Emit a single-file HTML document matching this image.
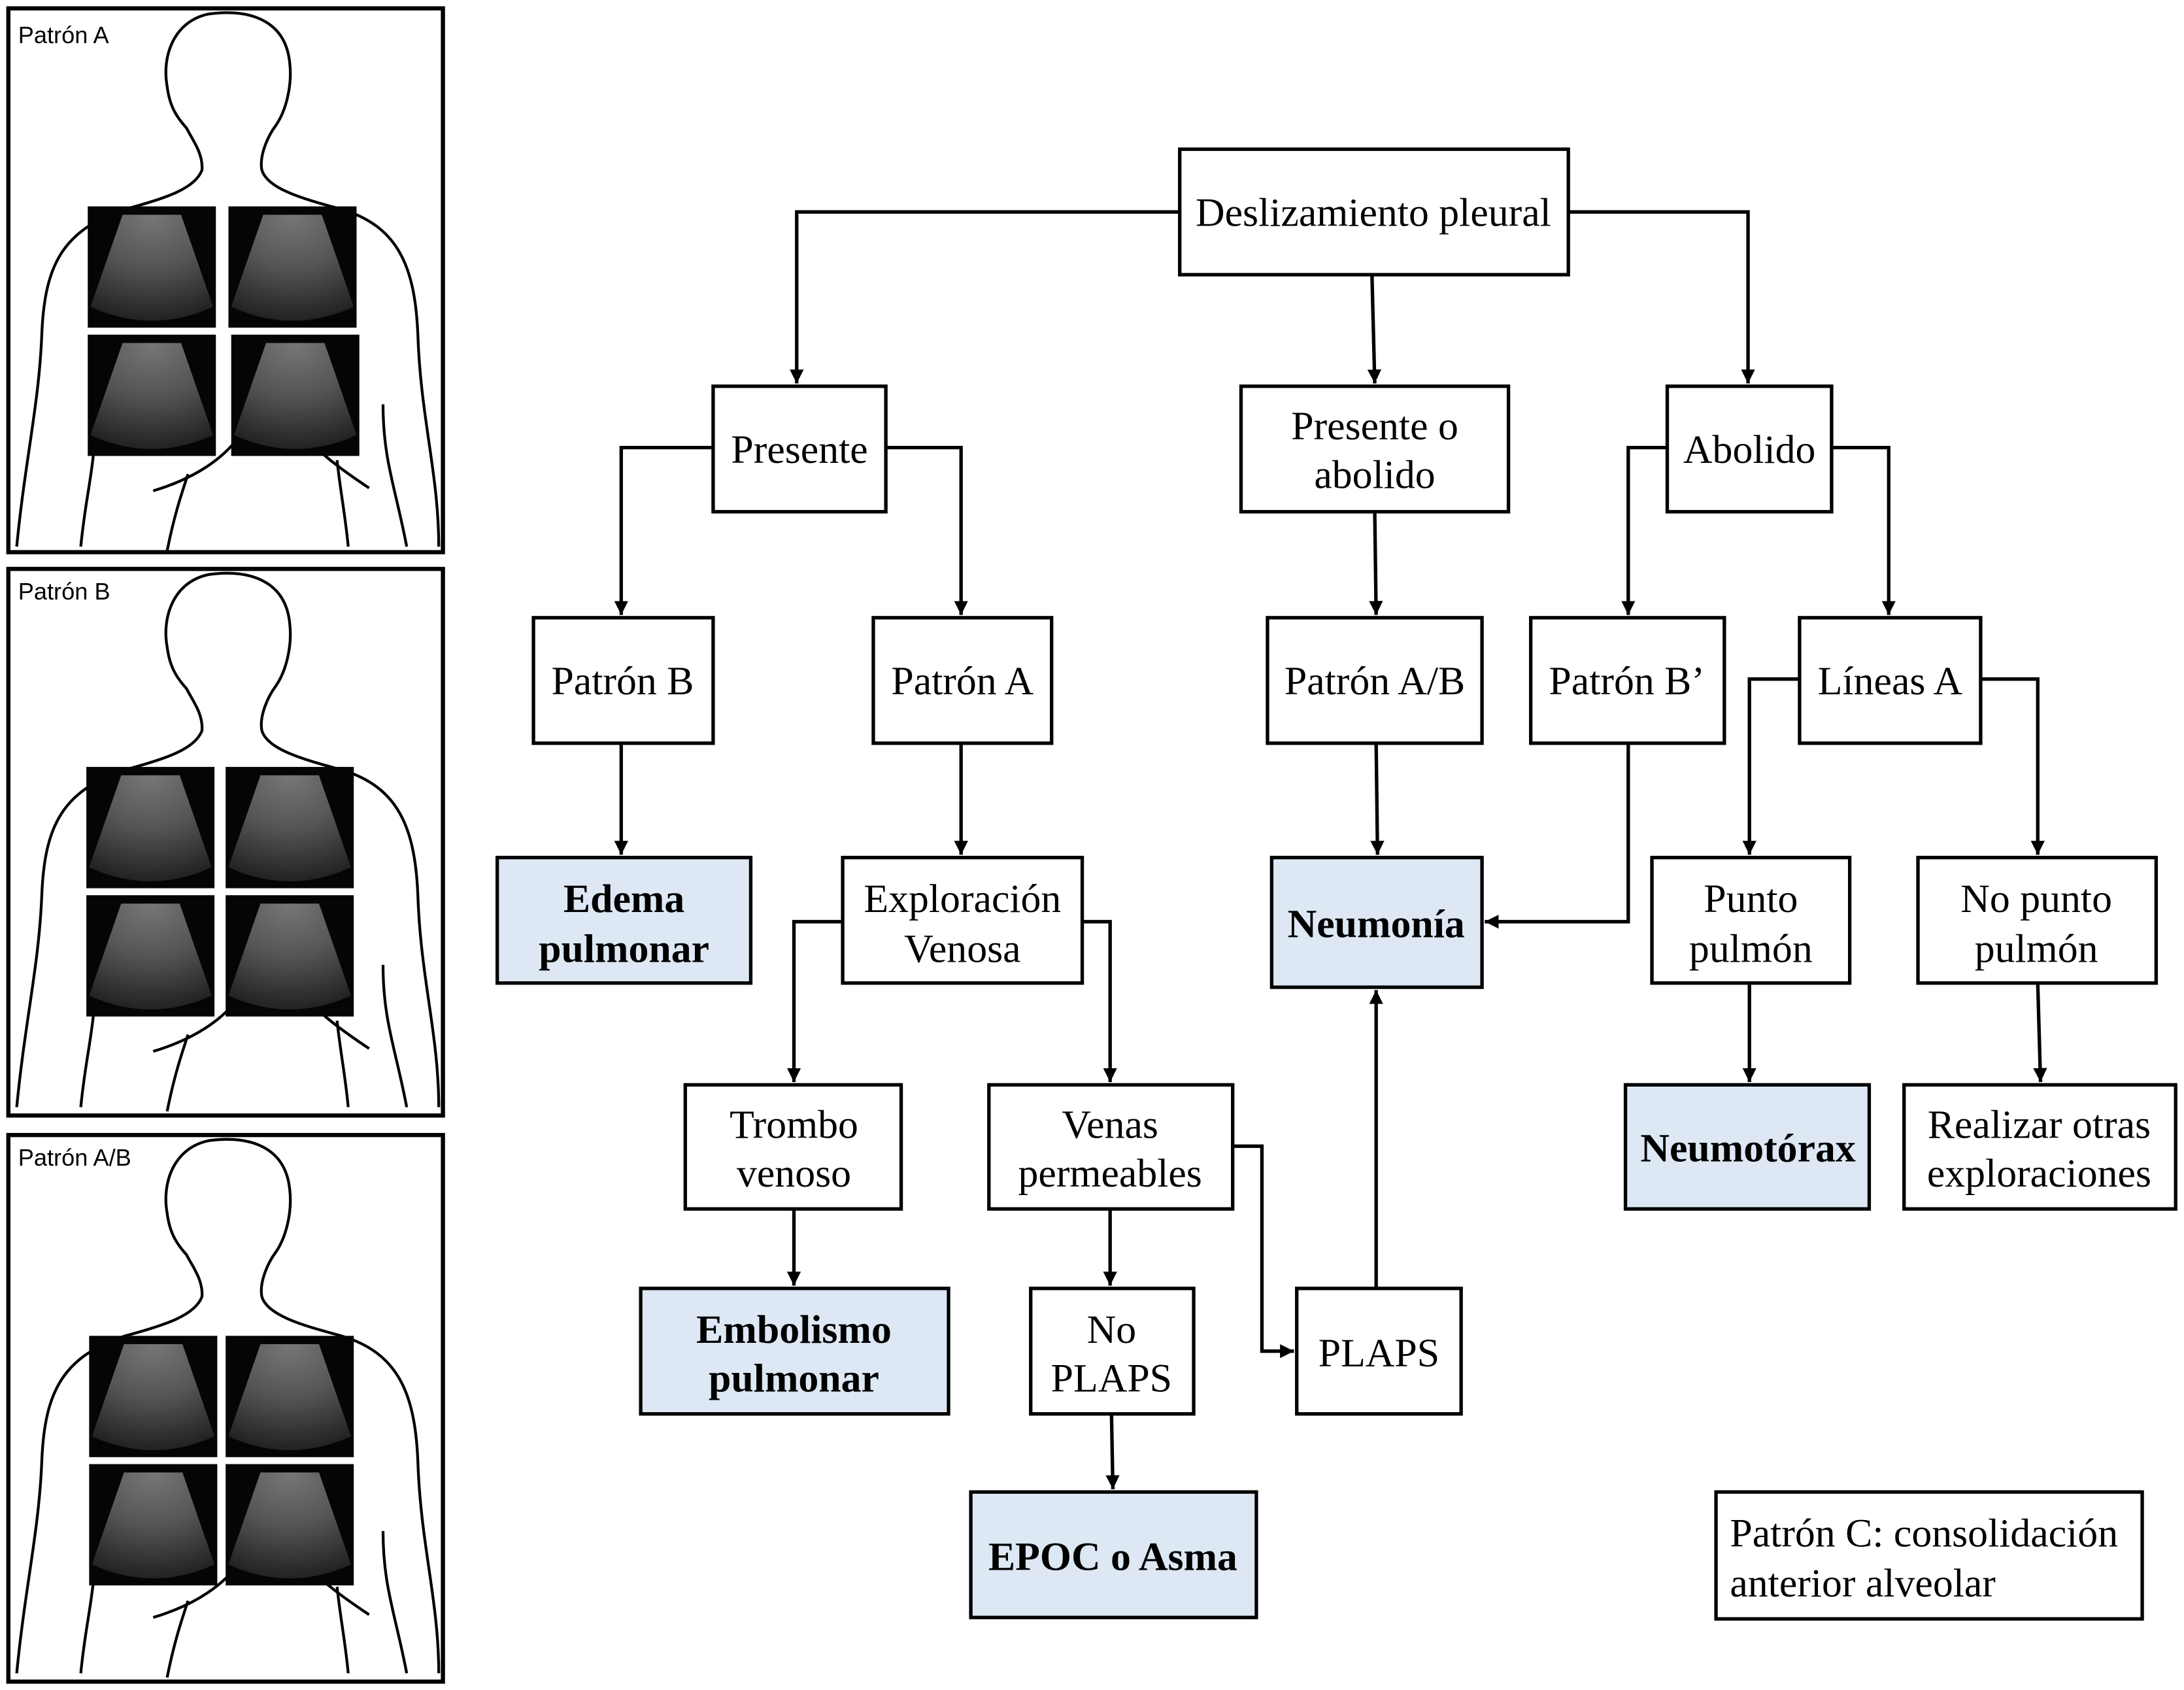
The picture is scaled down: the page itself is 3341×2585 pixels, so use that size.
<!DOCTYPE html>
<html><head><meta charset="utf-8"><style>
html,body{margin:0;padding:0;background:#fff;}
svg{display:block;}
text{font-family:"Liberation Serif",serif;font-size:29px;fill:#000;}
.b{font-weight:bold;}
.s{font-family:"Liberation Sans",sans-serif;font-size:17px;}
</style></head><body>
<svg width="3341" height="2585" viewBox="0 0 1568 1212" preserveAspectRatio="none" xmlns="http://www.w3.org/2000/svg">
<defs>
<marker id="a" viewBox="0 0 10 10" refX="10" refY="5" markerWidth="4" markerHeight="4" orient="auto"><path d="M0,0L10,5L0,10z" fill="#000"/></marker>
<radialGradient id="us" cx="0.5" cy="0" r="1">
<stop offset="0" stop-color="#777"/><stop offset="0.5" stop-color="#555"/><stop offset="1" stop-color="#222"/></radialGradient>
<g id="img">
<rect x="0" y="0" width="92" height="87" fill="#050505"/>
<path d="M25,6 L67,6 L90,72 Q46,92 2,72 Z" fill="url(#us)"/>
</g>
<g id="body" fill="none" stroke="#000" stroke-width="2">
<path d="M12,392 C18,330 28,290 30,240 C32,190 45,165 90,150 C120,142 140,135 145,122 C146,110 138,100 134,92 C128,85 122,78 120,62 C116,40 125,15 150,10 C180,6 205,15 208,45 C210,62 205,80 198,90 C192,98 186,112 188,122 C192,135 215,142 245,150 C285,162 298,190 300,240 C302,300 315,340 315,392"/>
<path d="M58,392 C62,350 70,330 68,290"/>
<path d="M292,392 C284,350 275,330 275,290"/>
<path d="M110,352 C150,340 170,320 180,300"/>
<path d="M210,300 C220,320 250,340 265,350"/>
<path d="M120,395 C125,370 130,355 135,340"/>
<path d="M250,392 C248,370 244,350 242,330"/>
</g>
</defs>

<g>
<rect x="6" y="6" width="312" height="390" fill="#fff" stroke="#000" stroke-width="3"/>
<use href="#body"/>
<use href="#img" x="63" y="148"/><use href="#img" x="164" y="148"/>
<use href="#img" x="63" y="240"/><use href="#img" x="166" y="240"/>
<text class="s" x="13" y="31">Patrón A</text>
</g>
<g transform="translate(0,402)">
<rect x="6" y="6" width="312" height="392" fill="#fff" stroke="#000" stroke-width="3"/>
<use href="#body"/>
<use href="#img" x="62" y="148"/><use href="#img" x="162" y="148"/>
<use href="#img" x="62" y="240"/><use href="#img" x="162" y="240"/>
<text class="s" x="13" y="28">Patrón B</text>
</g>
<g transform="translate(0,808)">
<rect x="6" y="6" width="312" height="392" fill="#fff" stroke="#000" stroke-width="3"/>
<use href="#body"/>
<use href="#img" x="64" y="150"/><use href="#img" x="162" y="150"/>
<use href="#img" x="64" y="242"/><use href="#img" x="162" y="242"/>
<text class="s" x="13" y="28">Patrón A/B</text>
</g>

<g fill="none" stroke="#000" stroke-width="2.5" marker-end="url(#a)">
<path d="M847,152 H572 V275"/>
<path d="M1126,152 H1255 V275"/>
<path d="M985,197 L987,275"/>
<path d="M512,321 H446 V441"/>
<path d="M636,321 H690 V441"/>
<path d="M987,367 L988,441"/>
<path d="M1197,321 H1169 V441"/>
<path d="M1315,321 H1356 V441"/>
<path d="M446,533 V613"/>
<path d="M690,533 V613"/>
<path d="M988,533 L989,613"/>
<path d="M1169,533 V661 H1066"/>
<path d="M1292,487 H1256 V613"/>
<path d="M1422,487 H1463 V613"/>
<path d="M605,661 H570 V776"/>
<path d="M777,661 H797 V776"/>
<path d="M1256,705 V776"/>
<path d="M1463,705 L1465,776"/>
<path d="M570,867 V922"/>
<path d="M797,867 V922"/>
<path d="M885,822 H906 V969 H929"/>
<path d="M798,1014 L799,1068"/>
<path d="M988,924 V710"/>
</g>

<g stroke="#000" stroke-width="2.5" fill="#fff">
<rect x="847" y="107" width="279" height="90"/>
<rect x="512" y="277" width="124" height="90"/>
<rect x="891" y="277" width="192" height="90"/>
<rect x="1197" y="277" width="118" height="90"/>
<rect x="383" y="443" width="129" height="90"/>
<rect x="627" y="443" width="128" height="90"/>
<rect x="910" y="443" width="154" height="90"/>
<rect x="1099" y="443" width="139" height="90"/>
<rect x="1292" y="443" width="130" height="90"/>
<rect x="357" y="615" width="182" height="90" fill="#dde8f4"/>
<rect x="605" y="615" width="172" height="90"/>
<rect x="913" y="615" width="151" height="93" fill="#dde8f4"/>
<rect x="1186" y="615" width="142" height="90"/>
<rect x="1377" y="615" width="171" height="90"/>
<rect x="492" y="778" width="155" height="89"/>
<rect x="710" y="778" width="175" height="89"/>
<rect x="1167" y="778" width="175" height="89" fill="#dde8f4"/>
<rect x="1367" y="778" width="195" height="89"/>
<rect x="460" y="924" width="221" height="90" fill="#dde8f4"/>
<rect x="740" y="924" width="117" height="90"/>
<rect x="931" y="924" width="118" height="90"/>
<rect x="697" y="1070" width="205" height="90" fill="#dde8f4"/>
<rect x="1232" y="1070" width="306" height="91"/>
</g>

<g text-anchor="middle">
<text x="986" y="162">Deslizamiento pleural</text>
<text x="574" y="332">Presente</text>
<text x="987" y="315">Presente o</text><text x="987" y="350">abolido</text>
<text x="1256" y="332">Abolido</text>
<text x="447" y="498">Patrón B</text>
<text x="691" y="498">Patrón A</text>
<text x="987" y="498">Patrón A/B</text>
<text x="1168" y="498">Patrón B’</text>
<text x="1357" y="498">Líneas A</text>
<text class="b" x="448" y="654">Edema</text><text class="b" x="448" y="690">pulmonar</text>
<text x="691" y="654">Exploración</text><text x="691" y="690">Venosa</text>
<text class="b" x="988" y="672">Neumonía</text>
<text x="1257" y="654">Punto</text><text x="1257" y="690">pulmón</text>
<text x="1462" y="654">No punto</text><text x="1462" y="690">pulmón</text>
<text x="570" y="816">Trombo</text><text x="570" y="851">venoso</text>
<text x="797" y="816">Venas</text><text x="797" y="851">permeables</text>
<text class="b" x="1255" y="833">Neumotórax</text>
<text x="1464" y="816">Realizar otras</text><text x="1464" y="851">exploraciones</text>
<text class="b" x="570" y="963">Embolismo</text><text class="b" x="570" y="998">pulmonar</text>
<text x="798" y="963">No</text><text x="798" y="998">PLAPS</text>
<text x="990" y="980">PLAPS</text>
<text class="b" x="799" y="1126">EPOC o Asma</text>
</g>
<text x="1242" y="1109">Patrón C: consolidación</text>
<text x="1242" y="1145">anterior alveolar</text>
</svg>
</body></html>
